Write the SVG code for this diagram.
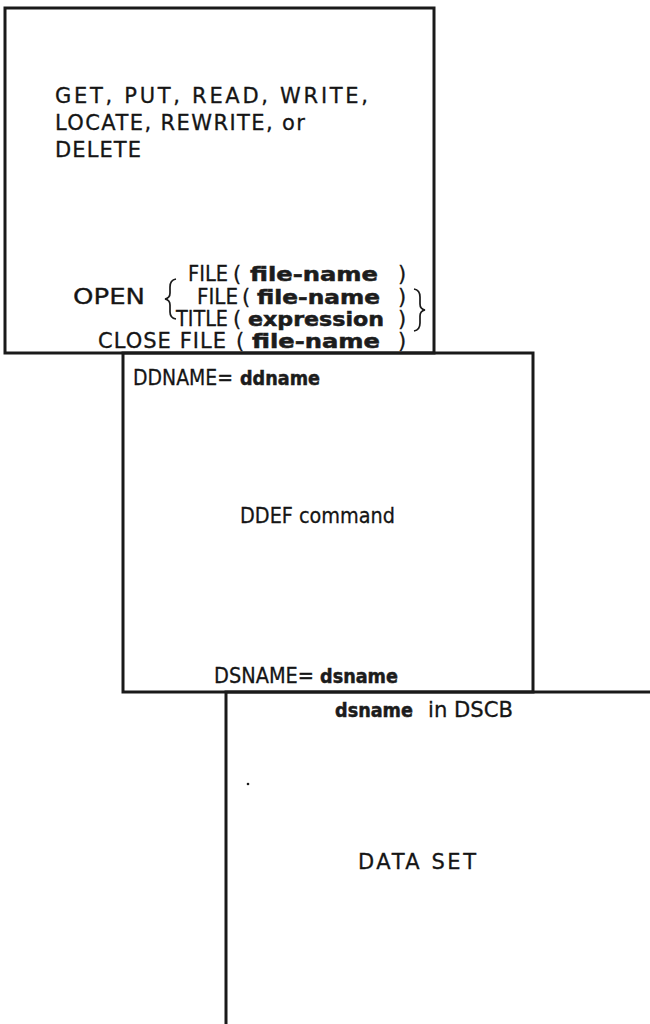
<svg xmlns="http://www.w3.org/2000/svg" width="650" height="1024" viewBox="0 0 650 1024">
<style>
.edge{fill:none;stroke:#1a1a1a;stroke-width:3;stroke-linecap:square}
.brace{fill:none;stroke:#1a1a1a;stroke-width:1.7}
text{font-family:"DejaVu Sans","Liberation Sans",sans-serif;font-size:21px;fill:#151515;stroke:#151515;stroke-width:0.3}
.b{font-weight:bold;font-size:19px;fill:#1c1c1c;stroke:#1c1c1c;stroke-width:0.5}
</style>
<rect width="650" height="1024" fill="#ffffff"/>
<g id="box-statements">
<rect class="edge" x="5" y="8" width="429" height="345"/>
<text x="55" y="103" textLength="313" lengthAdjust="spacing">GET, PUT, READ, WRITE,</text>
<text x="55" y="130" textLength="250" lengthAdjust="spacing">LOCATE, REWRITE, or</text>
<text x="55" y="157" textLength="86" lengthAdjust="spacing">DELETE</text>
<text x="188" y="281" textLength="40" lengthAdjust="spacingAndGlyphs">FILE</text>
<text x="233" y="281">(</text>
<text class="b" x="250" y="281" textLength="128" lengthAdjust="spacingAndGlyphs">file-name</text>
<text x="398" y="281">)</text>
<text x="73" y="304" textLength="72" lengthAdjust="spacingAndGlyphs">OPEN</text>
<path class="brace" d="M176 279 Q170 280 170 287 L170 293 Q170 298 165 299 Q170 300 170 305 L170 312 Q170 318 176 319"/>
<text x="197" y="304" textLength="41" lengthAdjust="spacingAndGlyphs">FILE</text>
<text x="242" y="304">(</text>
<text class="b" x="257" y="304" textLength="123" lengthAdjust="spacingAndGlyphs">file-name</text>
<text x="398" y="304">)</text>
<text x="176" y="326" textLength="52" lengthAdjust="spacingAndGlyphs">TITLE</text>
<text x="233" y="326">(</text>
<text class="b" x="248" y="326" textLength="136" lengthAdjust="spacingAndGlyphs">expression</text>
<text x="398" y="326">)</text>
<path class="brace" d="M414 289 Q420 290 420 297 L420 304 Q420 309 425 310 Q420 311 420 316 L420 323 Q420 330 414 331"/>
<text x="98" y="348" textLength="128" lengthAdjust="spacing">CLOSE FILE</text>
<text x="236" y="348">(</text>
<text class="b" x="252" y="348" textLength="128" lengthAdjust="spacingAndGlyphs">file-name</text>
<text x="398" y="348">)</text>
</g>
<g id="box-ddef">
<path class="edge" d="M123 353 H533 V692 H123 Z"/>
<text x="133" y="385" textLength="100" lengthAdjust="spacingAndGlyphs">DDNAME=</text>
<text class="b" x="240" y="385" textLength="80" lengthAdjust="spacingAndGlyphs">ddname</text>
<text x="240" y="523" textLength="155" lengthAdjust="spacingAndGlyphs">DDEF command</text>
<text x="214" y="683" textLength="100" lengthAdjust="spacingAndGlyphs">DSNAME=</text>
<text class="b" x="320" y="683" textLength="78" lengthAdjust="spacingAndGlyphs">dsname</text>
</g>
<g id="box-dataset">
<path class="edge" d="M650 692 H226 V1024"/>
<text class="b" x="335" y="717" textLength="78" lengthAdjust="spacingAndGlyphs">dsname</text>
<text x="428" y="717" textLength="85" lengthAdjust="spacingAndGlyphs">in DSCB</text>
<circle cx="248" cy="784" r="1.3" fill="#1a1a1a"/>
<text x="358" y="869" textLength="118" lengthAdjust="spacing">DATA SET</text>
</g>
<g id="connectors"/>
</svg>
